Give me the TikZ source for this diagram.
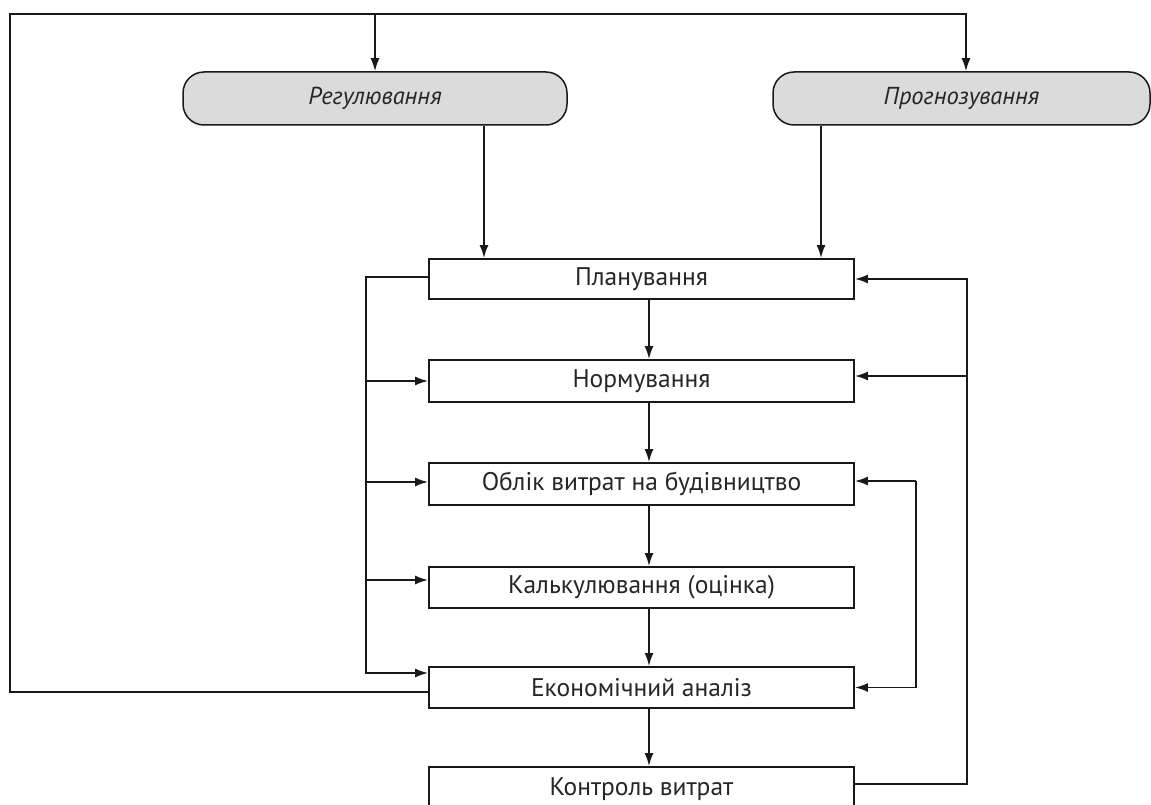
\documentclass[tikz,border=0pt]{standalone}
\usepackage{fontspec}
\setmainfont{PT Sans}
\usetikzlibrary{arrows.meta}
\begin{document}
\begin{tikzpicture}[x=1pt,y=-1pt,
  ln/.style={line width=1.8pt, draw=black!90},
  arr/.style={ln, -{Latex[length=13pt,width=9pt]}},
  stepbox/.style={draw=black!90, line width=1.8pt, minimum width=425pt, inner sep=0pt,
    font=\fontsize{25.5}{26}\selectfont, text=black!85},
  capsule/.style={draw=black!90, line width=1.5pt, rounded corners=21pt, fill=gray!28,
    minimum height=53pt, inner sep=0pt, font=\fontsize{24.5}{25}\selectfont\itshape, text=black!85}]
\useasboundingbox (0,0) rectangle (1151,805);
% nodes
\node[capsule, minimum width=384pt] (reg) at (375,98.5) {Регулювання};
\node[capsule, minimum width=377pt] (prog) at (961.5,98.5) {Прогнозування};
\node[stepbox, minimum height=40pt] (plan) at (641.5,279) {Планування};
\node[stepbox, minimum height=42pt] (norm) at (641.5,381) {Нормування};
\node[stepbox, minimum height=42pt] (oblik) at (641.5,484) {Облік витрат на будівництво};
\node[stepbox, minimum height=41pt] (kalk) at (641.5,587.5) {Калькулювання (оцінка)};
\node[stepbox, minimum height=41pt] (econ) at (641.5,687.5) {Економічний аналіз};
\node[stepbox, minimum height=44pt] (kontr) at (641.5,789) {Контроль витрат};
% helper coordinates
\coordinate (tl) at (10,14);
\coordinate (tr) at (966,14);
\coordinate (rx) at (484,0);
\coordinate (px) at (821,0);
\coordinate (cx) at (649,0);
\coordinate (L) at (366,0);
\coordinate (R1) at (967,0);
\coordinate (R2) at (916,0);
\coordinate (po) at ([yshift=2pt]plan.west);
\coordinate (kl) at ([yshift=7.5pt]kalk.west);
\coordinate (el) at ([yshift=14.5pt]econ.west);
\coordinate (eo) at ([yshift=-4.5pt]econ.west);
\coordinate (ko) at ([yshift=5pt]kontr.east);
\coordinate (ni) at ([yshift=5pt]norm.east);
\coordinate (oi) at ([yshift=3pt]oblik.east);
\coordinate (oli) at ([yshift=2pt]oblik.west);
% top loop
\draw[arr] (eo) -| (tl) -| (prog.north -| tr);
\draw[arr] (tl -| reg.north) -- (reg.north);
% capsules to planning
\draw[arr] (reg.south -| rx) -- (plan.north -| rx);
\draw[arr] (prog.south -| px) -- (plan.north -| px);
% main chain
\draw[arr] (plan.south -| cx) -- (norm.north -| cx);
\draw[arr] (norm.south -| cx) -- (oblik.north -| cx);
\draw[arr] (oblik.south -| cx) -- (kalk.north -| cx);
\draw[arr] (kalk.south -| cx) -- (econ.north -| cx);
\draw[arr] (econ.south -| cx) -- (kontr.north -| cx);
% left loop
\draw[arr] (po) -| (el -| L) -- (el);
\draw[arr] (norm.west -| L) -- (norm.west);
\draw[arr] (oli -| L) -- (oli);
\draw[arr] (kl -| L) -- (kl);
% right outer loop
\draw[arr] (ko) -| (plan.east -| R1) -- (plan.east);
\draw[arr] (ni -| R1) -- (ni);
% right inner loop
\draw[arr] (oi -| R2) -- (oi);
\draw[arr] (oi -| R2) -- (econ.east -| R2) -- (econ.east);
\end{tikzpicture}
\end{document}
